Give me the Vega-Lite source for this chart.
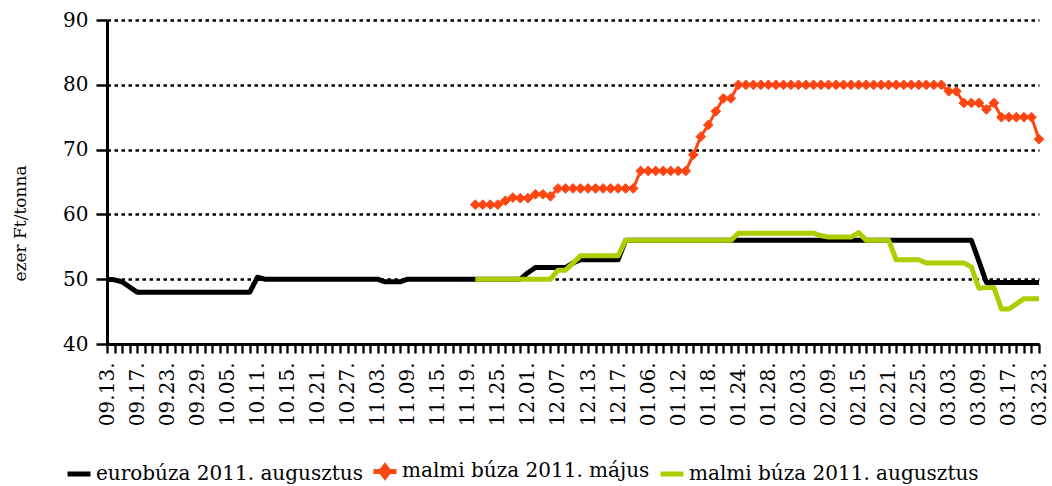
{
  "$schema": "https://vega.github.io/schema/vega-lite/v6.json",
  "width": 932,
  "height": 324,
  "autosize": {"type": "none"},
  "padding": {"left": 107, "top": 20, "right": 13, "bottom": 142},
  "background": "white",
  "config": {"view": {"stroke": null}, "font": "DejaVu Serif"},
  "data": {"values": [
    {"d":"09.13.","i":0,"e":50},
    {"d":"09.14.","i":1,"e":49.9},
    {"d":"09.15.","i":2,"e":49.6},
    {"d":"09.16.","i":3,"e":48.8},
    {"d":"09.17.","i":4,"e":48},
    {"d":"09.19.","i":5,"e":48},
    {"d":"09.20.","i":6,"e":48},
    {"d":"09.22.","i":7,"e":48},
    {"d":"09.23.","i":8,"e":48},
    {"d":"09.26.","i":9,"e":48},
    {"d":"09.27.","i":10,"e":48},
    {"d":"09.28.","i":11,"e":48},
    {"d":"09.29.","i":12,"e":48},
    {"d":"09.30.","i":13,"e":48},
    {"d":"10.03.","i":14,"e":48},
    {"d":"10.04.","i":15,"e":48},
    {"d":"10.05.","i":16,"e":48},
    {"d":"10.06.","i":17,"e":48},
    {"d":"10.07.","i":18,"e":48},
    {"d":"10.10.","i":19,"e":48},
    {"d":"10.11.","i":20,"e":50.3},
    {"d":"10.12.","i":21,"e":50},
    {"d":"10.13.","i":22,"e":50},
    {"d":"10.14.","i":23,"e":50},
    {"d":"10.15.","i":24,"e":50},
    {"d":"10.17.","i":25,"e":50},
    {"d":"10.18.","i":26,"e":50},
    {"d":"10.19.","i":27,"e":50},
    {"d":"10.21.","i":28,"e":50},
    {"d":"10.24.","i":29,"e":50},
    {"d":"10.25.","i":30,"e":50},
    {"d":"10.26.","i":31,"e":50},
    {"d":"10.27.","i":32,"e":50},
    {"d":"10.28.","i":33,"e":50},
    {"d":"10.31.","i":34,"e":50},
    {"d":"11.02.","i":35,"e":50},
    {"d":"11.03.","i":36,"e":50},
    {"d":"11.04.","i":37,"e":49.6},
    {"d":"11.07.","i":38,"e":49.6},
    {"d":"11.08.","i":39,"e":49.6},
    {"d":"11.09.","i":40,"e":50},
    {"d":"11.10.","i":41,"e":50},
    {"d":"11.11.","i":42,"e":50},
    {"d":"11.14.","i":43,"e":50},
    {"d":"11.15.","i":44,"e":50},
    {"d":"11.16.","i":45,"e":50},
    {"d":"11.17.","i":46,"e":50},
    {"d":"11.18.","i":47,"e":50},
    {"d":"11.19.","i":48,"e":50},
    {"d":"11.21.","i":49,"e":50,"m":61.5,"a":50},
    {"d":"11.22.","i":50,"e":50,"m":61.5,"a":50},
    {"d":"11.23.","i":51,"e":50,"m":61.5,"a":50},
    {"d":"11.25.","i":52,"e":50,"m":61.5,"a":50},
    {"d":"11.28.","i":53,"e":50,"m":62.1,"a":50},
    {"d":"11.29.","i":54,"e":50,"m":62.6,"a":50},
    {"d":"11.30.","i":55,"e":50,"m":62.5,"a":50},
    {"d":"12.01.","i":56,"e":51,"m":62.5,"a":50},
    {"d":"12.02.","i":57,"e":51.8,"m":63.1,"a":50},
    {"d":"12.05.","i":58,"e":51.8,"m":63.1,"a":50},
    {"d":"12.06.","i":59,"e":51.8,"m":62.8,"a":50},
    {"d":"12.07.","i":60,"e":51.8,"m":64,"a":51.4},
    {"d":"12.08.","i":61,"e":51.8,"m":64,"a":51.4},
    {"d":"12.09.","i":62,"e":52.5,"m":64,"a":52.5},
    {"d":"12.12.","i":63,"e":53,"m":64,"a":53.6},
    {"d":"12.13.","i":64,"e":53,"m":64,"a":53.6},
    {"d":"12.14.","i":65,"e":53,"m":64,"a":53.6},
    {"d":"12.15.","i":66,"e":53,"m":64,"a":53.6},
    {"d":"12.16.","i":67,"e":53,"m":64,"a":53.6},
    {"d":"12.17.","i":68,"e":53,"m":64,"a":53.6},
    {"d":"12.19.","i":69,"e":56,"m":64,"a":56},
    {"d":"12.20.","i":70,"e":56,"m":64,"a":56},
    {"d":"01.05.","i":71,"e":56,"m":66.7,"a":56},
    {"d":"01.06.","i":72,"e":56,"m":66.7,"a":56},
    {"d":"01.09.","i":73,"e":56,"m":66.7,"a":56},
    {"d":"01.10.","i":74,"e":56,"m":66.7,"a":56},
    {"d":"01.11.","i":75,"e":56,"m":66.7,"a":56},
    {"d":"01.12.","i":76,"e":56,"m":66.7,"a":56},
    {"d":"01.13.","i":77,"e":56,"m":66.7,"a":56},
    {"d":"01.16.","i":78,"e":56,"m":69.2,"a":56},
    {"d":"01.17.","i":79,"e":56,"m":72,"a":56},
    {"d":"01.18.","i":80,"e":56,"m":73.8,"a":56},
    {"d":"01.19.","i":81,"e":56,"m":75.9,"a":56},
    {"d":"01.20.","i":82,"e":56,"m":77.9,"a":56},
    {"d":"01.23.","i":83,"e":56,"m":77.9,"a":56},
    {"d":"01.24.","i":84,"e":56,"m":80,"a":57.1},
    {"d":"01.25.","i":85,"e":56,"m":80,"a":57.1},
    {"d":"01.26.","i":86,"e":56,"m":80,"a":57.1},
    {"d":"01.27.","i":87,"e":56,"m":80,"a":57.1},
    {"d":"01.28.","i":88,"e":56,"m":80,"a":57.1},
    {"d":"01.30.","i":89,"e":56,"m":80,"a":57.1},
    {"d":"01.31.","i":90,"e":56,"m":80,"a":57.1},
    {"d":"02.01.","i":91,"e":56,"m":80,"a":57.1},
    {"d":"02.03.","i":92,"e":56,"m":80,"a":57.1},
    {"d":"02.06.","i":93,"e":56,"m":80,"a":57.1},
    {"d":"02.07.","i":94,"e":56,"m":80,"a":57.1},
    {"d":"02.08.","i":95,"e":56,"m":80,"a":56.7},
    {"d":"02.09.","i":96,"e":56,"m":80,"a":56.5},
    {"d":"02.10.","i":97,"e":56,"m":80,"a":56.5},
    {"d":"02.13.","i":98,"e":56,"m":80,"a":56.5},
    {"d":"02.14.","i":99,"e":56,"m":80,"a":56.5},
    {"d":"02.15.","i":100,"e":56,"m":80,"a":57.2},
    {"d":"02.16.","i":101,"e":56,"m":80,"a":56},
    {"d":"02.17.","i":102,"e":56,"m":80,"a":56},
    {"d":"02.20.","i":103,"e":56,"m":80,"a":56},
    {"d":"02.21.","i":104,"e":56,"m":80,"a":56},
    {"d":"02.22.","i":105,"e":56,"m":80,"a":53},
    {"d":"02.23.","i":106,"e":56,"m":80,"a":53},
    {"d":"02.24.","i":107,"e":56,"m":80,"a":53},
    {"d":"02.25.","i":108,"e":56,"m":80,"a":53},
    {"d":"02.27.","i":109,"e":56,"m":80,"a":52.5},
    {"d":"02.28.","i":110,"e":56,"m":80,"a":52.5},
    {"d":"02.29.","i":111,"e":56,"m":80,"a":52.5},
    {"d":"03.03.","i":112,"e":56,"m":79,"a":52.5},
    {"d":"03.05.","i":113,"e":56,"m":79,"a":52.5},
    {"d":"03.06.","i":114,"e":56,"m":77.2,"a":52.5},
    {"d":"03.07.","i":115,"e":56,"m":77.2,"a":51.9},
    {"d":"03.09.","i":116,"e":52.8,"m":77.2,"a":48.6},
    {"d":"03.12.","i":117,"e":49.5,"m":76.2,"a":48.7},
    {"d":"03.13.","i":118,"e":49.5,"m":77.2,"a":48.7},
    {"d":"03.14.","i":119,"e":49.5,"m":75,"a":45.4},
    {"d":"03.17.","i":120,"e":49.5,"m":75,"a":45.4},
    {"d":"03.19.","i":121,"e":49.5,"m":75,"a":46.2},
    {"d":"03.20.","i":122,"e":49.5,"m":75,"a":47},
    {"d":"03.22.","i":123,"e":49.5,"m":75,"a":47},
    {"d":"03.23.","i":124,"e":49.5,"m":71.6,"a":47}
  ]},
  "transform": [
    {"fold": ["e", "m", "a"], "as": ["k", "v"]},
    {"filter": "isValid(datum.v)"},
    {"lookup": "k", "from": {"data": {"values": [
      {"k": "e", "name": "eurobúza 2011. augusztus", "o": 1},
      {"k": "m", "name": "malmi búza 2011. május", "o": 2},
      {"k": "a", "name": "malmi búza 2011. augusztus", "o": 3}
    ]}, "key": "k", "fields": ["name", "o"]}}
  ],
  "encoding": {
    "x": {
      "field": "d", "type": "ordinal",
      "sort": {"field": "i", "op": "min"},
      "scale": {"type": "point", "padding": 0},
      "axis": {
        "title": null, "labelAngle": -90, "labelOverlap": false,
        "labelExpr": "round(datum.index * 124) % 4 === 0 ? datum.label : ''",
        "labelFont": "DejaVu Serif", "labelFontSize": 20, "labelColor": "black", "labelPadding": 9,
        "tickColor": "black", "tickWidth": 2.3, "tickSize": 9,
        "domainColor": "black", "domainWidth": 3, "grid": false
      }
    },
    "y": {
      "field": "v", "type": "quantitative",
      "scale": {"domain": [40, 90], "nice": false, "zero": false},
      "axis": {
        "values": [40, 50, 60, 70, 80, 90],
        "title": "ezer Ft/tonna", "titleFont": "DejaVu Serif", "titleFontSize": 17,
        "titleFontWeight": "normal", "titleColor": "black",
        "titleX": -82, "titleY": 203, "titleBaseline": "alphabetic", "titleAlign": "center",
        "grid": true, "gridColor": "black", "gridDash": [3.5, 3.5], "gridWidth": 2.5, "gridOpacity": 1,
        "domainColor": "black", "domainWidth": 3,
        "tickColor": "black", "tickWidth": 2.5, "tickSize": 11,
        "labelFont": "DejaVu Serif", "labelFontSize": 20, "labelColor": "black", "labelPadding": 8
      }
    }
  },
  "layer": [
    {
      "mark": {"type": "line", "strokeJoin": "round"},
      "encoding": {
        "color": {
          "field": "name", "type": "nominal",
          "sort": {"field": "o", "op": "min"},
          "scale": {"range": ["#000000", "#FF4612", "#AECD00"]},
          "legend": {
            "orient": "none", "legendX": -42, "legendY": 437,
            "direction": "horizontal", "title": null, "padding": 0,
            "labelFont": "DejaVu Serif", "labelFontSize": 20, "labelColor": "black", "labelLimit": 500,
            "labelOffset": 3, "columnPadding": 0,
            "symbolType": "stroke", "symbolSize": 529, "symbolStrokeWidth": 5,
            "encode": {"symbols": {"update": {
              "shape": {"signal": "indexof(domain('color'), datum.value) === 1 ? 'M-1,0H1M0,-0.45L0.35,0L0,0.45L-0.35,0Z' : 'stroke'"},
              "fill": {"signal": "scale('color', datum.value)"},
              "strokeWidth": {"value": 5}
            }}}
          }
        },
        "strokeWidth": {"condition": {"test": "datum.k === 'm'", "value": 3}, "value": 5},
        "order": {"field": "i"}
      }
    },
    {
      "transform": [{"filter": "datum.k === 'm'"}],
      "mark": {"type": "point", "shape": "diamond", "filled": true, "size": 95, "color": "#FF4612", "opacity": 1, "stroke": "#FF4612", "strokeWidth": 1}
    }
  ]
}
